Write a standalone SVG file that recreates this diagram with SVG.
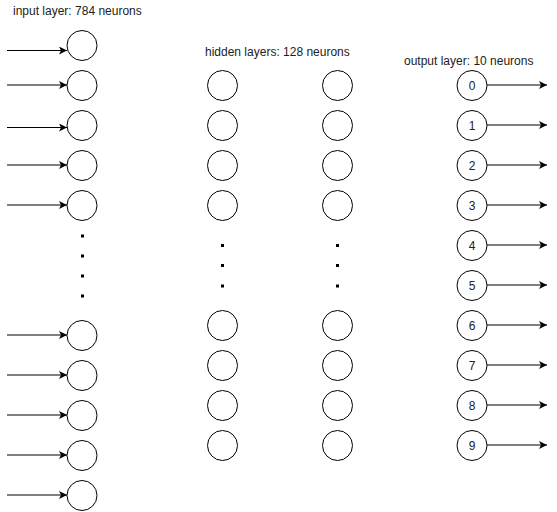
<svg xmlns="http://www.w3.org/2000/svg" width="557" height="512" viewBox="0 0 557 512">
<style>
.n{fill:#fff;stroke:#000;stroke-width:1}
.c{stroke:#000;stroke-width:1;fill:none;marker-end:url(#ah)}
.t{font-family:"Liberation Sans",Arial,sans-serif;font-size:12px;fill:#222}
.d{fill:#000}
.m{text-anchor:middle}
</style>
<defs>
<marker id="ah" viewBox="0 0 8 8" refX="8" refY="4" markerWidth="8" markerHeight="8" markerUnits="userSpaceOnUse" orient="auto">
<path d="M0,0 L8,4 L0,8 L2,4 Z" fill="#000"/>
</marker>
</defs>
<rect width="557" height="512" fill="#fff"/>
<text class="t" x="13" y="15">input layer: 784 neurons</text>
<text class="t" x="205" y="56">hidden layers: 128 neurons</text>
<text class="t" x="404" y="65">output layer: 10 neurons</text>
<g id="connectors">
<line class="c" x1="7" y1="50.5" x2="67" y2="50.5"/>
<line class="c" x1="7" y1="85" x2="67" y2="85"/>
<line class="c" x1="7" y1="127.5" x2="67" y2="127.5"/>
<line class="c" x1="7" y1="165" x2="67" y2="165"/>
<line class="c" x1="7" y1="205" x2="67" y2="205"/>
<line class="c" x1="7" y1="335" x2="67" y2="335"/>
<line class="c" x1="7" y1="375" x2="67" y2="375"/>
<line class="c" x1="7" y1="415" x2="67" y2="415"/>
<line class="c" x1="7" y1="455" x2="67" y2="455"/>
<line class="c" x1="7" y1="495" x2="67" y2="495"/>
<line class="c" x1="487" y1="85" x2="547" y2="85"/>
<line class="c" x1="487" y1="125" x2="547" y2="125"/>
<line class="c" x1="487" y1="165" x2="547" y2="165"/>
<line class="c" x1="487" y1="205" x2="547" y2="205"/>
<line class="c" x1="487" y1="245" x2="547" y2="245"/>
<line class="c" x1="487" y1="285" x2="547" y2="285"/>
<line class="c" x1="487" y1="325" x2="547" y2="325"/>
<line class="c" x1="487" y1="365" x2="547" y2="365"/>
<line class="c" x1="487" y1="405" x2="547" y2="405"/>
<line class="c" x1="487" y1="445" x2="547" y2="445"/>
</g>
<g id="input-layer">
<g id="in1"><circle class="n" cx="82" cy="45.5" r="15"/></g>
<g id="in2"><circle class="n" cx="82" cy="85.5" r="15"/></g>
<g id="in3"><circle class="n" cx="82" cy="125.5" r="15"/></g>
<g id="in4"><circle class="n" cx="82" cy="165.5" r="15"/></g>
<g id="in5"><circle class="n" cx="82" cy="205.5" r="15"/></g>
<g id="in-dots">
<rect class="d" x="81" y="234.5" width="3" height="3"/>
<rect class="d" x="81" y="254.5" width="3" height="3"/>
<rect class="d" x="81" y="274.5" width="3" height="3"/>
<rect class="d" x="81" y="294.5" width="3" height="3"/>
</g>
<g id="in6"><circle class="n" cx="82" cy="335.5" r="15"/></g>
<g id="in7"><circle class="n" cx="82" cy="375.5" r="15"/></g>
<g id="in8"><circle class="n" cx="82" cy="415.5" r="15"/></g>
<g id="in9"><circle class="n" cx="82" cy="455.5" r="15"/></g>
<g id="in10"><circle class="n" cx="82" cy="495.5" r="15"/></g>
</g>
<g id="hidden-layer-1">
<g id="h1a"><circle class="n" cx="222.5" cy="85.5" r="15"/></g>
<g id="h1b"><circle class="n" cx="222.5" cy="125.5" r="15"/></g>
<g id="h1c"><circle class="n" cx="222.5" cy="165.5" r="15"/></g>
<g id="h1d"><circle class="n" cx="222.5" cy="205.5" r="15"/></g>
<g id="h1-dots">
<rect class="d" x="221" y="244" width="3" height="3"/>
<rect class="d" x="221" y="264" width="3" height="3"/>
<rect class="d" x="221" y="284.5" width="3" height="3"/>
</g>
<g id="h1e"><circle class="n" cx="222.5" cy="325.5" r="15"/></g>
<g id="h1f"><circle class="n" cx="222.5" cy="365.5" r="15"/></g>
<g id="h1g"><circle class="n" cx="222.5" cy="405.5" r="15"/></g>
<g id="h1h"><circle class="n" cx="222.5" cy="445.5" r="15"/></g>
</g>
<g id="hidden-layer-2">
<g id="h2a"><circle class="n" cx="337.5" cy="85.5" r="15"/></g>
<g id="h2b"><circle class="n" cx="337.5" cy="125.5" r="15"/></g>
<g id="h2c"><circle class="n" cx="337.5" cy="165.5" r="15"/></g>
<g id="h2d"><circle class="n" cx="337.5" cy="205.5" r="15"/></g>
<g id="h2-dots">
<rect class="d" x="336" y="244" width="3" height="3"/>
<rect class="d" x="336" y="264" width="3" height="3"/>
<rect class="d" x="336" y="284.5" width="3" height="3"/>
</g>
<g id="h2e"><circle class="n" cx="337.5" cy="325.5" r="15"/></g>
<g id="h2f"><circle class="n" cx="337.5" cy="365.5" r="15"/></g>
<g id="h2g"><circle class="n" cx="337.5" cy="405.5" r="15"/></g>
<g id="h2h"><circle class="n" cx="337.5" cy="445.5" r="15"/></g>
</g>
<g id="output-layer">
<g id="out0"><circle class="n" cx="472" cy="85.5" r="15"/><text class="t m" x="472" y="89.5">0</text></g>
<g id="out1"><circle class="n" cx="472" cy="125.5" r="15"/><text class="t m" x="472" y="129.5">1</text></g>
<g id="out2"><circle class="n" cx="472" cy="165.5" r="15"/><text class="t m" x="472" y="169.5">2</text></g>
<g id="out3"><circle class="n" cx="472" cy="205.5" r="15"/><text class="t m" x="472" y="209.5">3</text></g>
<g id="out4"><circle class="n" cx="472" cy="245.5" r="15"/><text class="t m" x="472" y="249.5">4</text></g>
<g id="out5"><circle class="n" cx="472" cy="285.5" r="15"/><text class="t m" x="472" y="289.5">5</text></g>
<g id="out6"><circle class="n" cx="472" cy="325.5" r="15"/><text class="t m" x="472" y="329.5">6</text></g>
<g id="out7"><circle class="n" cx="472" cy="365.5" r="15"/><text class="t m" x="472" y="369.5">7</text></g>
<g id="out8"><circle class="n" cx="472" cy="405.5" r="15"/><text class="t m" x="472" y="409.5">8</text></g>
<g id="out9"><circle class="n" cx="472" cy="445.5" r="15"/><text class="t m" x="472" y="449.5">9</text></g>
</g>
</svg>
